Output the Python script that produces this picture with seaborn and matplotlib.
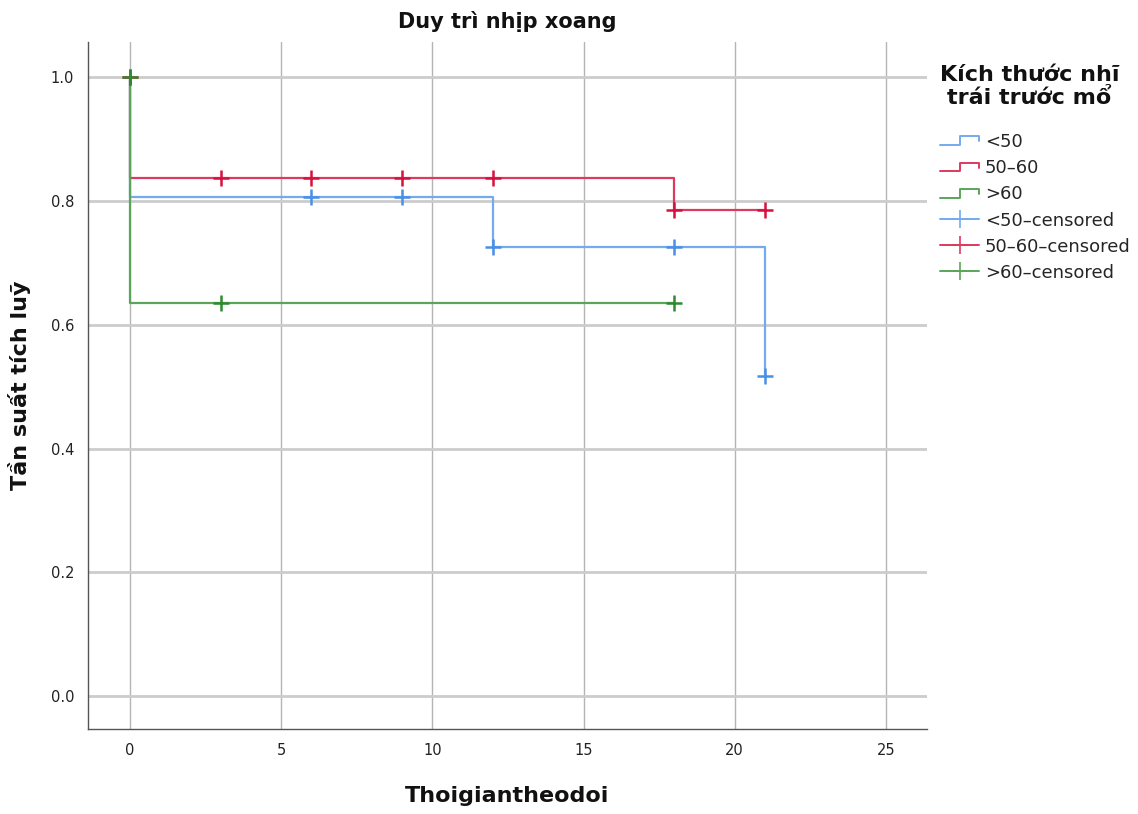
import matplotlib
matplotlib.use("Agg")
import matplotlib.pyplot as plt
import numpy as np
import pandas as pd
import seaborn as sns
from matplotlib.lines import Line2D
from matplotlib.legend_handler import HandlerBase

# Kaplan-Meier steps per group (time, cumulative survival)
groups = ["<50", "50\u201360", ">60"]
lt50_time = [0, 0, 12, 21]
lt50_surv = [1.0, 0.806, 0.726, 0.518]
mid_time = [0, 0, 18, 21]
mid_surv = [1.0, 0.837, 0.785, 0.785]
gt60_time = [0, 0, 18]
gt60_surv = [1.0, 0.636, 0.636]

# censored observations
lt50_cens_time = [6, 9, 12, 18, 21]
lt50_cens_surv = [0.806, 0.806, 0.726, 0.726, 0.518]
mid_cens_time = [0, 3, 6, 9, 12, 18, 21]
mid_cens_surv = [1.0, 0.837, 0.837, 0.837, 0.837, 0.785, 0.785]
gt60_cens_time = [0, 3, 18]
gt60_cens_surv = [1.0, 0.636, 0.636]

line_colors = ["#74aaf0", "#dc3a60", "#5aa55a"]
cens_colors = ["#4a8fe6", "#d81040", "#2f8a2f"]

steps = pd.concat([
    pd.DataFrame({"t": t, "s": s, "g": g})
    for t, s, g in zip([lt50_time, mid_time, gt60_time],
                       [lt50_surv, mid_surv, gt60_surv], groups)
], ignore_index=True)
cens = pd.concat([
    pd.DataFrame({"t": t, "s": s, "g": g})
    for t, s, g in zip([lt50_cens_time, mid_cens_time, gt60_cens_time],
                       [lt50_cens_surv, mid_cens_surv, gt60_cens_surv], groups)
], ignore_index=True)

sns.set_style("white")
plt.rcParams["font.family"] = ["DejaVu Sans"]

fig = plt.figure(figsize=(11.38, 8.14), dpi=100)
ax = fig.add_axes([0.0773, 0.1044, 0.7373, 0.844])

for x in range(0, 30, 5):
    ax.axvline(x, color="#b4b4b4", lw=1.0, zorder=0)
for y in np.arange(0, 1.01, 0.2):
    ax.axhline(y, color="#cccccc", lw=2.0, zorder=0)

for g, c in zip(groups, line_colors):
    d = steps[steps.g == g]
    sns.lineplot(data=d, x="t", y="s", ax=ax, color=c, lw=1.6,
                 drawstyle="steps-post", sort=False, estimator=None,
                 legend=False)
for g, c in zip(groups, cens_colors):
    d = cens[cens.g == g]
    sns.scatterplot(data=d, x="t", y="s", ax=ax, color=c, marker="+",
                    s=140, linewidth=1.8, legend=False, zorder=5)

ax.set_xlim(-1.39, 26.36)
ax.set_ylim(-0.053, 1.057)
ax.set_xticks(range(0, 30, 5))
ax.set_yticks(np.arange(0, 1.01, 0.2))
ax.set_yticklabels([f"{v:.1f}" for v in np.arange(0, 1.01, 0.2)])
ax.tick_params(length=0, labelsize=10.5, colors="#222222", pad=10)
for sp in ["top", "right"]:
    ax.spines[sp].set_visible(False)
for sp in ["left", "bottom"]:
    ax.spines[sp].set_color("#555555")
    ax.spines[sp].set_linewidth(1.0)

ax.set_title("Duy trì nhịp xoang", fontsize=15, fontweight="bold", pad=10,
             color="#111111")
ax.set_xlabel("Thoigiantheodoi", fontsize=16, fontweight="bold", labelpad=20,
              color="#111111")
ax.set_ylabel("Tần suất tích luỹ", fontsize=16, fontweight="bold", labelpad=14,
              color="#111111")


class StepHandler(HandlerBase):
    def create_artists(self, legend, orig_handle, xdescent, ydescent,
                       width, height, fontsize, trans):
        x0 = -xdescent
        y0 = -ydescent
        xs = [x0, x0 + 0.5 * width, x0 + 0.5 * width, x0 + width, x0 + width]
        ys = [y0 + 0.15 * height, y0 + 0.15 * height, y0 + 0.85 * height,
              y0 + 0.85 * height, y0 + 0.45 * height]
        ln = Line2D(xs, ys, color=orig_handle.get_color(), lw=1.4,
                    transform=trans)
        return [ln]


step_handles = [Line2D([], [], color=c) for c in line_colors]
cens_handles = [Line2D([], [], color=c, marker="+", markersize=13,
                       markeredgewidth=1.2, lw=1.4) for c in line_colors]
labels = groups + [g + "\u2013censored" for g in groups]
leg = ax.legend(step_handles + cens_handles, labels,
                handler_map={h: StepHandler() for h in step_handles},
                loc="upper left", bbox_to_anchor=(1.0, 0.985), frameon=False,
                fontsize=13, labelspacing=0.45, handlelength=2.2,
                handletextpad=0.3, borderaxespad=0.3,
                title="Kích thước nhĩ\ntrái trước mổ",
                title_fontproperties={"weight": "bold", "size": 16})
leg._legend_box.align = "left"
leg._legend_box.sep = 18
leg.get_title().set_ha("center")
leg.get_title().set_color("#111111")

fig.savefig("out.png", dpi=100)
